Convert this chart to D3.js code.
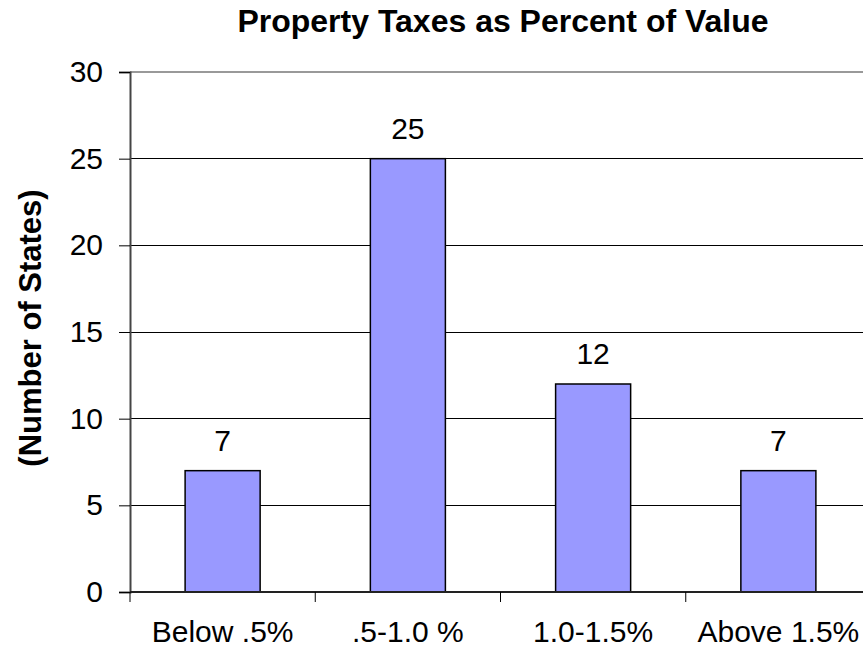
<!DOCTYPE html>
<html>
<head>
<meta charset="utf-8">
<script src="https://cdn.jsdelivr.net/npm/d3@7"></script>
<style>
  html, body { margin: 0; padding: 0; background: #fff; }
  svg { display: block; }
  text { font-family: "Liberation Sans", Arial, sans-serif; fill: #000; }
</style>
</head>
<body>
<svg id="chart" width="863" height="652"></svg>
<script>
const titleText = "Property Taxes as Percent of Value";
const yAxisTitle = "(Number of States)";
const categories = ["Below .5%", ".5-1.0 %", "1.0-1.5%", "Above 1.5%"];
const values = [7, 25, 12, 7];
const yTicks = [0, 5, 10, 15, 20, 25, 30];

const svg = d3.select("#chart");
const plot = { left: 130, right: 871, top: 72, bottom: 592 };

const x = d3.scaleBand()
  .domain(categories)
  .range([plot.left, plot.right])
  .paddingInner(0.595)
  .paddingOuter(0.2975);

const y = d3.scaleLinear().domain([0, 30]).range([plot.bottom, plot.top]);

// gridlines
svg.append("g").selectAll("line")
  .data(yTicks.filter(d => d > 0 && d < 30))
  .join("line")
  .attr("x1", plot.left).attr("x2", plot.right)
  .attr("y1", d => y(d)).attr("y2", d => y(d))
  .attr("stroke", "#000").attr("stroke-width", 1)
  .attr("shape-rendering", "crispEdges");

// top border
svg.append("line")
  .attr("x1", plot.left).attr("x2", plot.right)
  .attr("y1", y(30)).attr("y2", y(30))
  .attr("stroke", "#999").attr("stroke-width", 2);

const rows = categories.map((c, i) => ({ c, v: values[i] }));

// bars
svg.append("g").selectAll("rect")
  .data(rows)
  .join("rect")
  .attr("x", d => x(d.c))
  .attr("y", d => y(d.v))
  .attr("width", x.bandwidth())
  .attr("height", d => y(0) - y(d.v))
  .attr("fill", "#9999FF")
  .attr("stroke", "#000")
  .attr("stroke-width", 1.5);

// data labels
svg.append("g").selectAll("text")
  .data(rows)
  .join("text")
  .attr("x", d => x(d.c) + x.bandwidth() / 2)
  .attr("y", d => y(d.v) - 20)
  .attr("text-anchor", "middle")
  .style("font-size", "30px")
  .text(d => d.v);

// y axis
const yAxis = d3.axisLeft(y).tickValues(yTicks).tickSize(11).tickPadding(16);
const gy = svg.append("g").attr("transform", `translate(${plot.left},0)`).call(yAxis);
gy.select(".domain").attr("stroke", "#444").attr("stroke-width", 2);
gy.selectAll(".tick line").attr("stroke", "#000").attr("stroke-width", 1);
gy.selectAll(".tick text")
  .attr("font-family", null)
  .style("font-size", "30px");

// x axis baseline with ticks at category boundaries
svg.append("line")
  .attr("x1", plot.left).attr("x2", plot.right)
  .attr("y1", y(0)).attr("y2", y(0))
  .attr("stroke", "#222").attr("stroke-width", 2);
svg.append("g").selectAll("line")
  .data(d3.range(categories.length + 1))
  .join("line")
  .attr("x1", i => plot.left + i * x.step())
  .attr("x2", i => plot.left + i * x.step())
  .attr("y1", y(0)).attr("y2", y(0) + 10)
  .attr("stroke", "#000").attr("stroke-width", 1);

// category labels
svg.append("g").selectAll("text")
  .data(categories)
  .join("text")
  .attr("x", d => x(d) + x.bandwidth() / 2)
  .attr("y", 642)
  .attr("text-anchor", "middle")
  .style("font-size", "30px")
  .text(d => d);

// title
svg.append("text")
  .attr("x", 503).attr("y", 32)
  .attr("text-anchor", "middle")
  .style("font-size", "32px").style("font-weight", "bold")
  .text(titleText);

// y axis title
svg.append("text")
  .attr("transform", `translate(41,328) rotate(-90)`)
  .attr("text-anchor", "middle")
  .style("font-size", "31px").style("font-weight", "bold")
  .text(yAxisTitle);
</script>
</body>
</html>
